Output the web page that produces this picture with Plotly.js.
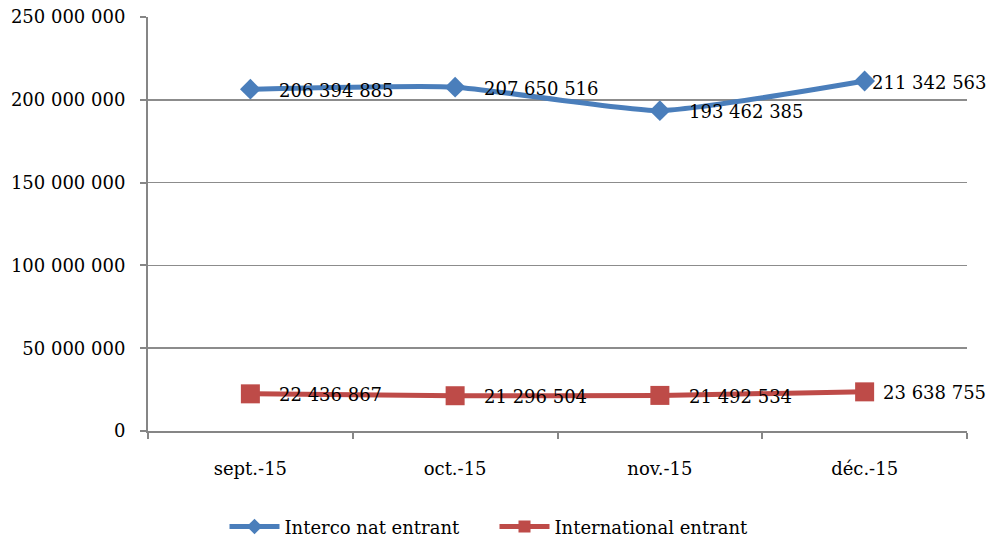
<!DOCTYPE html>
<html>
<head>
<meta charset="utf-8">
<script src="https://cdn.plot.ly/plotly-3.0.1.min.js"></script>
<style>html,body{margin:0;padding:0;background:#fff;}#chart{width:989px;height:542px;}</style>
</head>
<body>
<div id="chart"></div>
<script>
const categories = ["sept.-15", "oct.-15", "nov.-15", "déc.-15"];
const intercoNat = [206394885, 207650516, 193462385, 211342563];
const international = [22436867, 21296504, 21492534, 23638755];
const seriesNames = ["Interco nat entrant", "International entrant"];
const yTicks = [0, 50000000, 100000000, 150000000, 200000000, 250000000];

const fontFam = "DejaVu Serif, Liberation Serif, serif";
const fmt = v => String(v).replace(/\B(?=(\d{3})+(?!\d))/g, " ");

const traces = [
  {
    x: categories, y: intercoNat, name: seriesNames[0],
    type: "scatter", mode: "lines+markers",
    line: {color: "#4a7ebb", width: 5, shape: "spline", smoothing: 0.5},
    marker: {symbol: "diamond", size: 16, color: "#4a7ebb"},
    cliponaxis: false
  },
  {
    x: categories, y: international, name: seriesNames[1],
    type: "scatter", mode: "lines+markers",
    line: {color: "#be4b48", width: 5, shape: "spline", smoothing: 0.5},
    marker: {symbol: "square", size: 19, color: "#be4b48"},
    cliponaxis: false
  }
];

const blueShift = [27, 27, 27, 5];
const redShift = [27, 27, 27, 16];
const annotations = [];
categories.forEach((c, i) => {
  annotations.push({x: c, y: intercoNat[i], text: fmt(intercoNat[i]), showarrow: false,
    xanchor: "left", yanchor: "middle", xshift: blueShift[i], yshift: -1,
    font: {family: fontFam, size: 18, color: "#000"}});
  annotations.push({x: c, y: international[i], text: fmt(international[i]), showarrow: false,
    xanchor: "left", yanchor: "middle", xshift: redShift[i], yshift: -1,
    font: {family: fontFam, size: 18, color: "#000"}});
});

const layout = {
  width: 989, height: 542,
  margin: {l: 148, r: 22, t: 17, b: 111},
  paper_bgcolor: "#fff", plot_bgcolor: "#fff",
  separators: ", ",
  font: {family: fontFam, size: 18, color: "#000"},
  showlegend: true,
  annotations: annotations,
  legend: {
    orientation: "h", xref: "container", yref: "container",
    x: 0.5, xanchor: "center", y: 0.028, yanchor: "middle",
    font: {family: fontFam, size: 18, color: "#000"},
    itemwidth: 50, entrywidth: 205, itemsizing: "constant"
  },
  xaxis: {
    type: "category", range: [-0.5, 3.5],
    showgrid: false, zeroline: false,
    showline: true, linecolor: "#868686", linewidth: 2,
    ticks: "outside", tickson: "boundaries", ticklen: 6, tickcolor: "#868686", tickwidth: 2,
    ticklabelstandoff: 20,
    tickfont: {family: fontFam, size: 18, color: "#000"}
  },
  yaxis: {
    range: [0, 250000000],
    tickvals: yTicks,
    tickformat: ",",
    showgrid: true, gridcolor: "#8c8c8c", gridwidth: 1.5,
    zeroline: false,
    showline: true, linecolor: "#868686", linewidth: 2,
    ticks: "outside", ticklen: 6, tickcolor: "#868686", tickwidth: 2,
    ticklabelstandoff: 11,
    tickfont: {family: fontFam, size: 18, color: "#000"}
  }
};

Plotly.newPlot("chart", traces, layout, {displayModeBar: false, staticPlot: true});
</script>
</body>
</html>
